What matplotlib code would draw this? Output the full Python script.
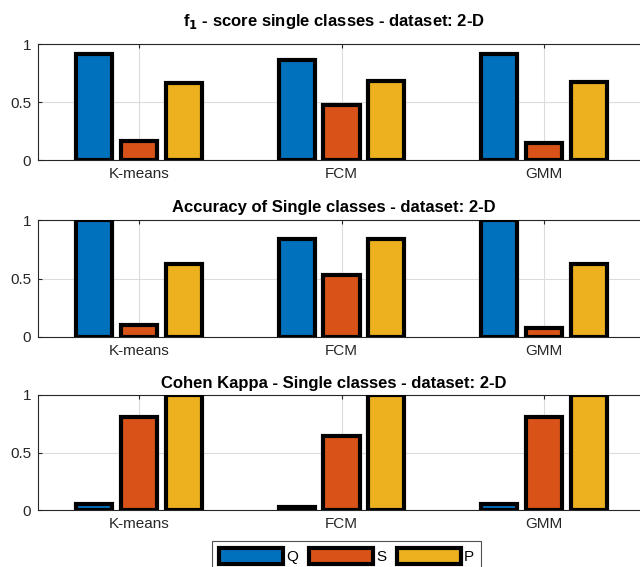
import numpy as np
import matplotlib
matplotlib.use('Agg')
import matplotlib.pyplot as plt

plt.rcParams['font.family'] = ['Liberation Sans', 'DejaVu Sans']

methods = ['K-means', 'FCM', 'GMM']
classes = ['Q', 'S', 'P']
colors = ['#0072BD', '#D95319', '#EDB120']

# rows = method, cols = class (Q, S, P)
f1_score = [[0.91, 0.16, 0.66],
            [0.86, 0.47, 0.68],
            [0.91, 0.15, 0.67]]
accuracy = [[1.00, 0.10, 0.62],
            [0.84, 0.53, 0.84],
            [1.00, 0.08, 0.62]]
kappa = [[0.05, 0.81, 1.00],
         [0.03, 0.64, 1.00],
         [0.05, 0.81, 1.00]]

titles = [r'f$_\mathbf{1}$ - score single classes - dataset: 2-D',
          'Accuracy of Single classes - dataset: 2-D',
          'Cohen Kappa - Single classes - dataset: 2-D']
panels = [f1_score, accuracy, kappa]
title_pads = [13, 6, 5]

fig = plt.figure(figsize=(6.4, 5.67), dpi=100)

# axes boxes in pixels (top, bottom) of a 567 px tall figure
boxes = [(44, 160), (220, 337), (395, 510)]
left, right = 38 / 640, 645 / 640

x = np.arange(1, len(methods) + 1)
offset = 0.2222
width = 0.178

handles = []
for data, title, (top, bot), tp in zip(panels, titles, boxes, title_pads):
    ax = fig.add_axes([left, 1 - bot / 567, right - left, (bot - top) / 567])
    vals = np.array(data)
    for j, cls in enumerate(classes):
        b = ax.bar(x + (j - 1) * offset, vals[:, j], width, color=colors[j],
                   edgecolor='black', linewidth=3, label=cls, zorder=3)
        if len(handles) < 3:
            handles.append(b)
    ax.set_xlim(0.5, 3.5)
    ax.set_ylim(0, 1)
    ax.set_xticks(x)
    ax.set_xticklabels(methods)
    ax.set_yticks([0, 0.5, 1])
    ax.set_yticklabels(['0', '0.5', '1'])
    ax.grid(True, color='#dcdcdc', linewidth=0.8, zorder=0)
    ax.set_axisbelow(True)
    ax.tick_params(direction='in', length=3, width=0.8, colors='#262626',
                   labelsize=11, top=True, right=True, pad=5)
    for s in ax.spines.values():
        s.set_color('#262626')
        s.set_linewidth(0.8)
    ax.set_title(title, fontsize=12, fontweight='bold', pad=tp, x=0.487)

leg = fig.legend(handles, classes, loc='upper center', ncol=3,
                 bbox_to_anchor=(346.5 / 640, 1 - 541 / 567),
                 fontsize=11, handlelength=4.2, handleheight=1.2,
                 handletextpad=0.2, columnspacing=0.7, borderpad=0.45,
                 borderaxespad=0, fancybox=False, frameon=True)
leg.get_frame().set_edgecolor('#262626')
leg.get_frame().set_linewidth(0.8)

fig.savefig('out.png', dpi=100)
